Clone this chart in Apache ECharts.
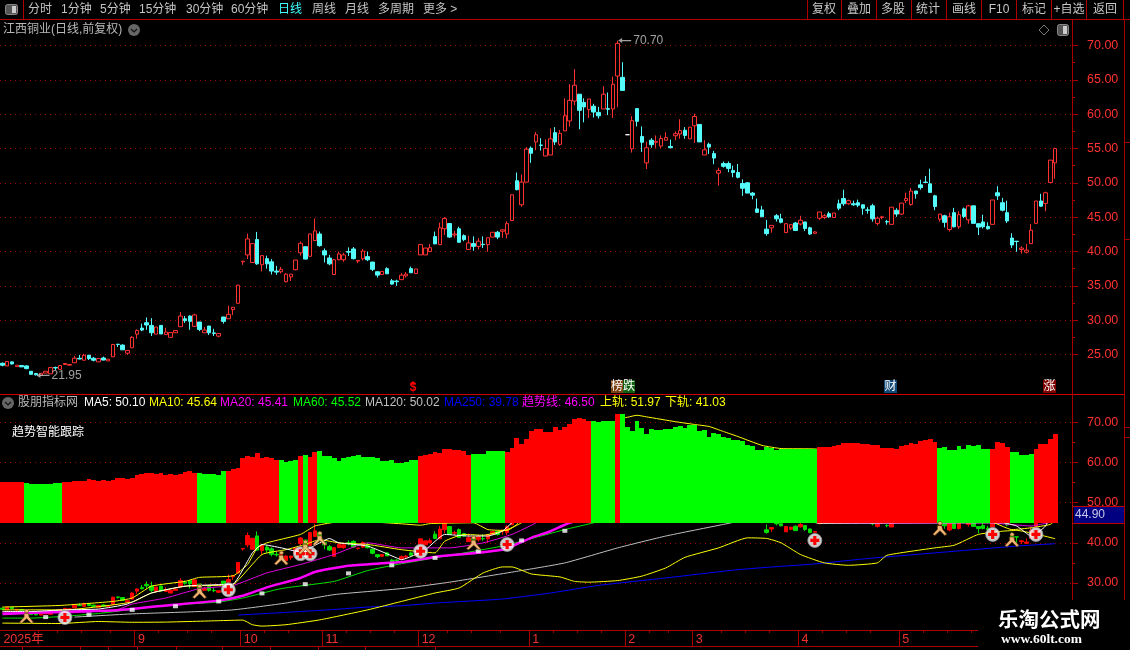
<!DOCTYPE html>
<html><head><meta charset="utf-8">
<style>html,body{margin:0;padding:0;background:#000;overflow:hidden}#c{width:1130px;height:650px}</style>
<script src="https://cdn.jsdelivr.net/npm/echarts@6/dist/echarts.min.js"></script>
</head><body><div id="c"></div>
<script>
// open, close, low, high
var candles = [
[23.73,23.44,23.29,23.83],[23.34,23.98,23.34,23.98],[23.93,23.63,23.55,24.0],[23.24,23.44,23.24,23.44],[23.4,23.2,23.2,23.4],
[23.34,22.95,22.85,23.44],[22.56,22.12,22.1,22.6],[22.25,22.05,21.95,22.3],[22.0,22.27,22.0,22.27],[22.3,22.56,22.3,22.56],
[22.2,23.1,22.2,23.1],[23.1,23.05,22.75,23.25],[22.85,23.4,22.85,23.4],[23.55,23.7,23.55,23.7],[23.45,23.55,23.45,23.55],
[23.8,24.46,23.8,24.8],[24.45,24.35,24.3,24.95],[24.17,24.9,24.17,25.1],[24.9,24.4,24.2,24.95],[24.46,24.17,24.0,24.65],
[23.93,24.41,23.93,24.41],[24.5,24.2,24.15,24.7],[24.07,24.32,24.07,24.32],[24.66,26.46,24.66,26.55],[26.5,26.45,26.1,26.55],
[26.37,25.68,25.68,26.5],[25.2,25.6,24.95,25.6],[25.98,27.5,25.98,27.7],[27.97,28.5,27.3,28.66],[28.85,28.56,28.4,29.5],
[29.63,29.3,28.6,30.4],[29.24,28.17,27.7,30.3],[27.97,29.0,27.97,29.0],[29.24,28.0,28.0,29.3],[27.9,28.27,27.9,28.9],
[27.5,28.2,27.5,28.2],[28.17,28.5,28.17,28.5],[29.05,30.6,29.05,31.2],[30.2,29.93,29.6,30.6],[30.6,29.83,28.6,30.7],
[29.1,30.76,29.0,30.95],[29.73,28.66,28.4,29.75],[28.17,28.56,28.17,29.0],[29.15,28.17,27.85,29.15],[28.15,28.07,27.7,28.75],
[27.68,28.07,27.5,28.07],[30.46,29.83,29.5,30.5],[30.2,30.85,30.2,32.1],[31.54,31.88,30.76,31.88],[32.46,35.1,32.46,35.1],
[38.5,38.6,38.07,38.6],[39.5,41.83,38.9,42.6],[38.4,41.15,38.4,41.15],[41.73,38.2,38.05,42.85],[38.07,39.4,37.1,39.4],
[38.95,38.2,37.5,39.4],[38.5,37.15,36.65,38.9],[37.15,37.0,36.6,37.9],[37.05,37.4,36.8,37.75],[35.6,36.7,35.5,36.85],
[36.3,36.7,35.7,36.7],[37.35,38.75,37.25,38.75],[39.8,41.2,39.4,41.45],[40.7,38.9,38.85,40.7],[39.3,42.55,39.3,42.55],
[41.6,43.0,41.6,44.8],[42.55,40.85,40.7,42.9],[40.1,39.5,38.4,40.45],[39.05,38.2,38.0,39.5],[36.65,38.8,36.65,38.9],
[38.8,39.65,38.7,40],[38.8,39.5,38.5,39.8],[40,39.9,39.35,40.6],[40.37,38.95,38.85,40.65],[38.6,38.7,38.3,38.7],
[38.95,40.07,38.7,40.35],[39.25,38.8,38.6,40],[38.46,37.4,37.15,38.5],[37.05,36.56,36.2,37.1],[36.65,37.1,36.65,37.1],
[37.5,36.75,36.75,37.7],[35.73,35.25,35.15,36.0],[35.7,35.6,35.0,35.9],[35.9,36.56,35.9,36.85],[36.45,36.7,36.2,37.0],
[37.5,36.9,36.9,37.8],[36.8,37.45,36.8,37.45],[39.5,41,39.5,41],[39.5,40.5,39.5,40.5],[40,40.55,39.9,41.1],
[42.17,41.1,41.1,42.9],[41,43.44,41,44.2],[43.3,44.8,42.4,45],[44.07,42.1,42.0,44.1],[42.4,42.55,42,43],
[43.3,41.34,41.3,43.6],[42.3,41.73,41.5,42.5],[40.3,41.25,40.3,42.3],[41.15,40.75,40.1,42.2],[40.75,41.5,40.3,41.95],
[41.05,41,40.5,42.2],[41,42,39.95,42],[42.1,42.8,42.1,42.8],[42.8,42.1,41.8,43],[42.95,43.15,42,43.2],
[42.55,44.05,41.9,44.4],[44.5,48.25,44.5,48.3],[50.3,49.0,48.9,51.5],[46.8,50.1,46.5,51.2],[50.1,54.9,50.1,55.2],
[55.05,54.3,52.9,55.3],[55.95,57.0,54.75,57.4],[55.5,55.45,54.7,56.5],[53.9,55,53.9,56.3],[54.05,56.4,54.05,57.9],
[57.3,55.95,55.5,58.1],[55.6,57.2,55.4,57.7],[57.55,59.75,57.55,62.3],[59,62,58.2,64.35],[61.9,64.2,61.3,66.55],
[62.9,60.55,57.8,62.9],[61.7,61.05,58.8,62.3],[60.65,62.2,59.45,62.2],[61.15,60.3,59.5,61.5],[60.25,59.75,59.35,61.05],
[60.75,62.9,60.75,64.05],[60.8,60.7,59.85,63.15],[60.75,64.35,59.45,65.45],[65.55,70.3,61,70.7],[65.35,63.45,63.45,67.55],
[57,57,57,57],[54.95,59.05,54.4,59.7],[60.8,58.95,58.2,60.8],[56.75,55.9,54.5,58.2],[52.9,55.1,52,56],
[56.2,55.55,55.1,56.5],[55.9,56,55.1,56.9],[55.35,56.45,55.05,56.9],[56.2,56.6,56.2,57.35],[55.3,55.1,55.1,56.3],
[56.85,57.15,56.2,57.5],[57.1,57.6,56.4,59.25],[57.65,56.9,56.4,58.1],[56.4,58.1,56.4,58.1],[58.3,59.65,55.8,60.05],
[58.5,55.95,55.95,58.5],[54.05,54.8,54.05,56.2],[55.6,55.2,54.2,55.85],[54.25,53.6,52.7,54.65],[51.4,51.8,49.6,52.2],
[52.8,52.4,52.2,53.1],[52.8,52.1,51.55,53.1],[51.8,51.5,50.8,52.5],[51.5,50.8,50.65,52.75],[49.9,49.2,48.1,50.5],
[50,48.5,48.5,50.1],[48.5,48.2,47.6,48.65],[46.2,45.7,45.6,47.7],[46.05,45.05,45.05,46.65],[43.25,42.6,42.3,44.6],
[43.45,43.8,42.75,43.8],[45.2,44.75,44.35,45.45],[44.75,44.25,44.1,45.5],[42.75,44.05,42.75,44.05],[43.4,43.9,43.15,44.0],
[44.15,43.05,43.05,44.3],[44,44.55,43.8,45.2],[44.3,43.35,43,44.3],[43.45,42.55,42.4,43.6],[42.65,42.85,42.65,42.95],
[44.85,45.75,44.6,45.75],[44.95,45.2,44.7,45.45],[45.5,45.05,44.9,45.8],[44.95,45.6,44.95,45.6],[46.95,46.3,46,47.55],
[47.7,46.95,46.65,49],[46.95,47.4,46.8,47.55],[46.95,46.8,46.65,47.4],[47.1,46.75,46.45,47.55],[46.8,46.3,45.35,46.8],
[46.05,46,45.5,46.45],[46.65,44.75,44.35,46.95],[44.1,44.85,43.8,45.1],[44.95,45.05,44.7,45.2],[44.35,44.3,43.9,44.6],
[43.95,46.45,43.95,46.45],[46,45.45,45.05,46.3],[45.45,47.05,45.35,47.05],[47.4,47.7,47.05,48.55],[46.85,48.8,46.65,49.25],
[48.8,48.4,47.7,48.8],[49.7,49.3,49,50.45],[50.1,50.05,50,51],[49.85,48.6,48.6,52.05],[48.1,46.55,46,48.25],
[44.7,45.45,44.35,45.45],[45.2,44.25,43.5,45.35],[43.2,45.05,42.9,45.65],[45.65,43.6,43.5,46.35],[43.6,45.35,43.3,45.85],
[46.2,45.1,44.85,46.4],[44.6,46.65,44.05,46.8],[46.65,44.1,44.1,46.65],[44.05,43.55,42.4,44.05],[44.3,43.6,43.35,45.35],
[43.65,43.3,43.2,44.25],[43.95,47.5,43.95,47.5],[48.55,48.1,47.5,49.5],[47.1,46,45.85,47.8],[45.65,44.45,44.15,47.4],
[41.95,40.95,40.5,42.65],[41.5,41.45,39.95,41.5],[40.3,40.5,39.7,40.75],[39.9,40.2,39.7,41.1],[41.15,43.1,41.15,44],
[44.1,47.35,44,47.35],[47.35,46.6,46.5,48.4],[47,48.55,45.85,48.7],[50.05,53.3,50.05,53.3],[52.9,55,50.6,55.1]
];
var whiteDojiIndex = 130;
var bandBase = 44.9;
var bandTops = [
55.23,55.14,55.23,55.06,55.06,
54.9,54.73,54.57,54.57,54.57,54.65,54.98,54.81,
55.06,55.06,55.3,55.47,55.39,55.8,55.56,55.39,55.56,55.47,55.56,56.21,56.21,55.88,56.05,56.95,57.28,57.45,57.45,57.04,57.37,56.87,57.04,56.87,57.2,57.78,58.02,57.53,
57.53,57.04,57.2,57.04,56.79,58.02,
58.02,58.44,58.77,61.15,61.65,61.4,62.47,61.15,61.48,61.23,60.74,
60.74,60.08,60.41,60.74,
61.73,
61.98,
61.48,62.55,
62.96,61.73,61.56,61.23,60.49,61.23,61.4,61.65,61.98,61.32,61.48,61.48,61.07,60.49,60.49,60.74,60,60,60.25,60.58,60.74,
61.73,61.81,62.14,62.72,62.3,63.29,63.46,63.04,63.2,62.8,61.98,
62.2,62.2,62.2,62.8,62.88,62.96,62.96,
62.72,63.7,66.09,64.69,65.93,67.9,68.4,68.3,67.57,67.74,68.97,68.15,68.8,69.7,70.86,71.1,70.8,70.3,
70.37,70.04,70.37,70.37,70.37,
72.1,
72.1,68.97,67.98,70.45,68.56,67.24,68.4,68.15,68.15,68.3,68.48,68.89,69.05,68.72,69.46,69.46,67.82,68.15,66.34,67.32,67.08,66.5,66.09,65.68,65.68,65.27,64.36,64.03,63.2,63.2,63.87,63.62,63.04,63.46,63.46,63.46,63.46,63.46,63.46,63.46,63.29,
63.95,63.95,63.95,64.03,64.44,64.86,64.86,64.77,64.77,64.69,64.6,64.36,64.44,63.62,63.7,63.62,63.46,64.2,64.28,64.86,64.69,65.27,65.68,65.84,65.19,
63.7,63.87,63.2,63.2,64.2,63.29,64.36,64.03,64.36,63.46,63.37,
63.37,65.19,64.77,63.95,
62.72,62.55,61.98,61.81,62.2,
63.37,64.69,64.69,65.93,67.16
];
// run lengths, alternating red then green
var bandRuns = [5,8,28,6,11,4,1,1,2,21,11,7,18,5,1,41,25,11,4,5,5];

var ma5 = [[0,22.9],[6,22.9],[13,23.3],[20,23.5],[26,24.75],[31,27.5],[38,29.2],[45,29.6],[48,29.75],[52,37.5],[54,39.6],[58,38.75],[62,37.75],[66,40],[68,41.1],[70,40],[76,39.2],[82,36.25],[83,35.8],[88,38.3],[92,42.1],[97,41.7],[101,41.7],[104,42.9],[106,45],[115,52],[130,62],[150,54],[170,44.9],[195,45],[208,45],[211,44.2],[214,41.7],[217,44.2],[219,50.1]];
var ma10 = [[0,23.3],[13,23.3],[27,25.25],[31,27.5],[38,29.2],[45,29.4],[48,29.6],[54,37.1],[59,38.3],[63,39.6],[66,40.8],[70,40],[76,39.6],[83,38.3],[90,37.5],[92,40.4],[96,42.1],[100,41.9],[105,43.3],[108,45],[125,58],[140,60],[155,50],[170,45],[205,45.5],[210,43.3],[214,43.75],[218,44.6],[219,45.64]];
var ma20 = [[0,22.7],[14,22.55],[24,23.4],[27,24.75],[34,26.25],[41,28.6],[48,29.4],[55,32.5],[62,34.6],[69,37.1],[76,40],[83,38.75],[93,38.75],[100,40],[106,42.1],[111,45],[130,58],[150,55],[170,45],[190,44.9],[205,45],[214,44.2],[219,45.41]];
var ma60 = [[0,21.25],[6,21.25],[13,21.7],[20,22.4],[34,24.4],[45,25.25],[50,26.25],[58,28.6],[69,30.4],[76,33.1],[83,34.8],[90,36.25],[104,39.2],[112,41.7],[117,43.3],[123,45],[140,50],[170,49],[200,46],[219,45.52]];
var ma120 = [[15,21.5],[27,22.3],[38,22.75],[48,23.3],[59,25],[69,27.1],[83,28.6],[93,30.2],[107,32.9],[117,35],[128,38.75],[138,41.7],[150,44.6],[159,46.7],[175,48],[200,49.5],[219,50.02]];
var ma250 = [[49,22],[59,22.67],[69,23.4],[76,24],[83,24.33],[90,25],[104,26],[114,27.5],[124,29.4],[138,31.25],[152,33.2],[159,33.9],[169,34.75],[180,36.1],[190,37.1],[200,38.1],[211,39.2],[219,39.78]];
var trendLine = [[0,22.25],[13,22.83],[24,23.2],[34,24.4],[45,25.6],[50,26.8],[55,28.9],[62,31.25],[65,32.75],[72,34.3],[83,35.2],[90,36.5],[104,38.3],[110,41.25],[114,42.9],[118,45],[140,52],[170,47],[200,45.5],[219,46.5]];
var upperRail = [[0,24],[12,24.4],[23,25.4],[27,26.25],[31,29.2],[38,30.4],[41,31.4],[48,31.8],[51,34.6],[53,38.75],[55,40],[62,42.1],[65,44.2],[69,45.1],[75,45.3],[83,44.75],[87,44.4],[89,44.8],[98,45],[101,43.3],[105,43.1],[107,44.6],[109,48],[114,55],[118,60],[123,66],[128,70.8],[130,71.3],[132,71.8],[134,71.4],[140,70.2],[144,69.5],[147,69],[150,67.75],[153,66.5],[158,64.3],[162,63.5],[169,63.4],[180,62],[195,55],[205,50],[212,49],[219,51.97]];
var lowerRail = [[0,20],[12,19.9],[20,20.4],[27,20.2],[34,20.25],[45,20.6],[50,20.75],[52,19.6],[54,19.25],[59,19.6],[66,20.8],[76,23.3],[83,25.4],[90,27.5],[95,28.75],[100,32.5],[104,34],[106,34],[110,32.25],[116,31.5],[119,30.4],[122,30.2],[128,30.6],[133,31.7],[138,33.75],[142,36.4],[149,38.75],[155,41.25],[159,41.1],[162,40],[166,37.1],[171,35],[176,34.4],[182,35],[184,36.9],[194,38.75],[198,39.4],[203,42.1],[208,42.9],[211,43.1],[219,41.03]];
var whiteDots = [[9,21.5],[18,22.1],[27,23.3],[36,24.2],[45,25.4],[54,27.4],[63,29.7],[72,32.4],[81,34.4],[90,36.25],[99,37.9],[108,40.6],[117,43]];
var plusSignals = [[13,21.4],[47,28.3],[62,37.3],[64,37.3],[87,37.9],[105,39.6],[169,40.6],[206,42.1],[215,42.1]];
var runnerSignals = [[5,21.7],[41,27.9],[58,36.25],[63,38.9],[66,41.1],[98,40],[195,43.6],[210,40.8]];
var highMark = [128,70.70];
var lowMark = [7,21.95];
var priceTicks = [25,30,35,40,45,50,55,60,65,70];
var priceMinor = [27.5,32.5,37.5,42.5,47.5,52.5,57.5,62.5,67.5];
var subTicks = [30,40,50,60,70];
var subMinor = [35,45,55,65];
var monthStarts = [0,28,50,67,87,110,130,144,166,187];
var monthNames = ['2025年','9','10','11','12','1','2','3','4','5'];
var weekTicks = [8,12,17,23,33,39,44,55,60,72,77,82,93,98,104,115,120,125,135,139,150,155,160,171,176,181,192,197,202];

var FONT = '"Liberation Sans","Noto Sans CJK SC",sans-serif';
var N = 223, categories = [];
for (var i = 0; i < N; i++) { var m = monthStarts.indexOf(i); categories.push(m >= 0 ? monthNames[m] : 'd' + i); }
var bandColorIdx = [];
bandRuns.forEach(function (n, k) { for (var j = 0; j < n; j++) bandColorIdx.push(k % 2); });
var bandData = bandTops.map(function (t, idx) { return [idx, t, bandBase, bandColorIdx[idx]]; });
var mainData = candles.map(function (c, idx) {
  return idx === whiteDojiIndex ? {value: c, itemStyle: {color:'#fff', color0:'#fff', borderColor:'#fff', borderColor0:'#fff', borderColorDoji:'#fff'}} : c;
});

var RED = '#ff3232', DARK = '#a80000';
var g = [];
function T(x, y, s, color, o) { o = o || {};
  g.push({type:'text', x:x, y:y, z:o.z||50, zlevel:0, silent:true, style:{text:s, fill:color, font:(o.weight||'normal')+' '+(o.size||12)+'px '+(o.family||FONT), align:o.align||'left', verticalAlign:'middle', backgroundColor:o.bg, shadowBlur:o.blur||0, shadowColor:o.shadow||'transparent'}});
}
function L(x1, y1, x2, y2, c, w) { g.push({type:'line', z:40, silent:true, shape:{x1:x1,y1:y1,x2:x2,y2:y2}, style:{stroke:c||DARK, lineWidth:w||1}}); }
function R(x, y, w, h, fill, z, stroke, r) { g.push({type:'rect', z:z||30, silent:true, shape:{x:x,y:y,width:w,height:h,r:r||0}, style:{fill:fill, stroke:stroke||null, lineWidth:1}}); }

// toolbar
R(0,0,1130,19,'#000',30);
L(0,19.5,1130,19.5,'#b00000');
L(23.5,0,23.5,19,'#b00000');
R(5.5,4.5,12,10,'#555',41,'#888',2); R(12,6,4,7,'#ccc',42);
[['分时',28],['1分钟',61],['5分钟',100],['15分钟',139],['30分钟',186],['60分钟',231],['周线',312],['月线',345],['多周期',378],['更多 >',423]].forEach(function(a){T(a[1],10,a[0],'#c4c4c4',{size:12});});
T(278,10,'日线','#40ffff',{size:12});
[807,841,876,911,946,981,1016,1051,1086,1123].forEach(function(x){L(x+.5,0,x+.5,19,'#b00000');});
[['复权',824],['叠加',859],['多股',893],['统计',928],['画线',964],['F10',999],['标记',1034],['+自选',1069],['返回',1105]].forEach(function(a){T(a[1],10,a[0],'#c8c8c8',{align:'center',size:12});});

// titles
T(3,30,'江西铜业(日线,前复权)','#b8b8b8',{size:12});
function chevron(x,y){ g.push({type:'circle',z:41,silent:true,shape:{cx:x,cy:y,r:6},style:{fill:'#666'}});
  g.push({type:'polyline',z:42,silent:true,shape:{points:[[x-3,y-1],[x,y+2],[x+3,y-1]]},style:{stroke:'#111',fill:null,lineWidth:1.2}}); }
chevron(134,30); chevron(8,403);
g.push({type:'polygon',z:41,silent:true,shape:{points:[[1044,25],[1049,30],[1044,35],[1039,30]]},style:{fill:null,stroke:'#777'}});
R(1057.5,24.5,11,11,'#555',41,'#888',2); R(1063,26,4,8,'#ccc',42);

// panel separators and axis
L(0,394.5,1124,394.5,'#d00000',1.2);
L(1072.5,20,1072.5,600,DARK,1);
L(1124.5,20,1124.5,600,DARK,1);
[142,239,427,437].forEach(function(y){L(1124,y+.5,1130,y+.5,'#a00000');});

// sub legend
[['股朋指标网',18,'#b8b8b8'],['MA5: 50.10',84,'#ffffff'],['MA10: 45.64',149,'#ffff00'],['MA20: 45.41',220,'#ff00ff'],['MA60: 45.52',293,'#00ff00'],['MA120: 50.02',365,'#c0c0c0'],['MA250: 39.78',444,'#0000ff'],['趋势线: 46.50',522,'#ff00ff'],['上轨: 51.97',600,'#ffff00'],['下轨: 41.03',665,'#ffff00']].forEach(function(a){T(a[1],403,a[0],a[2],{size:12});});
T(12,433,'趋势智能跟踪','#ffffff',{size:12});

// event flags above the separator
T(413,388,'$','#ff0000',{size:12,align:'center',weight:'bold'});
g.push({type:'polygon',z:45,silent:true,shape:{points:[[413,381],[416,384.5],[410,384.5]]},style:{fill:'#ff0000'}});
R(611,380,12,13,'#7a4010',44); R(623,380,12,13,'#106010',44);
T(617,386.5,'榜','#fff',{align:'center',z:45}); T(629,386.5,'跌','#fff',{align:'center',z:45});
R(884,380,13,13,'#104878',44); T(890.5,386.5,'财','#fff',{align:'center',z:45});
R(1043,380,13,13,'#800000',44); T(1049.5,386.5,'涨','#fff',{align:'center',z:45});

// price box
R(1074,507,50,16,'#000080',44);
L(1073,523.5,1124,523.5,'#c00000');
L(1073,506.5,1124,506.5,'#c00000');
T(1075,515,'44.90','#c8c8e8',{z:45});

// bottom axis rows
L(0,646.5,978,646.5,'#a80000');
[22,80,108,137,176,222,270,318,365,435].forEach(function(x){L(x+.5,646,x+.5,650,'#a80000');});

// watermark
R(978,630,152,20,'#000',46); R(1073,600,57,30,'#000',46);
g.push({type:'rect',z:46,silent:true,shape:{x:978,y:601,width:95,height:29},style:{fill:'#000'}});
T(998,619,'乐淘公式网','#ffffff',{size:20.5,weight:'bold',family:'"Noto Sans CJK SC",serif',z:48,blur:3,shadow:'#8090c0'});
T(1001,640,'www.60lt.com','#ffffff',{size:13.5,weight:'bold',family:'"Liberation Serif",serif',z:48,blur:2,shadow:'#8090c0'});

function lineS(name, data, color, width, z) {
  return {name:name, type:'line', xAxisIndex:1, yAxisIndex:1, data:data, showSymbol:false, smooth:0.15, z:z||3, silent:true, lineStyle:{color:color, width:width||1}};
}
var PERSON = 'path://M10 0a2.5 2.5 0 1 1 0 5a2.5 2.5 0 1 1 0-5zM7 6L12 6L13 11L18 18L15.5 19.5L10 13L4 19.5L1.5 18L7 11z';
var PLUS = 'path://M6.5 0h7v6.5h6.5v7h-6.5v6.5h-7v-6.5h-6.5v-7h6.5z';
var ARROW = 'path://M0 5L6 1L6 4L20 4L20 6L6 6L6 9z';

var yAxisBase = {type:'value', position:'right', axisLine:{show:false}, splitLine:{show:false}, axisLabel:{show:false}};
var option = {
  animation:false, backgroundColor:'#000', tooltip:{show:false}, graphic:{elements:g},
  grid:[{left:0, width:1072, top:20, height:373},{left:0, width:1072, top:395, height:235}],
  xAxis:[
    {type:'category', data:categories, gridIndex:0, boundaryGap:true, show:false},
    {type:'category', data:categories, gridIndex:1, boundaryGap:true, position:'bottom',
     axisLine:{show:true, lineStyle:{color:DARK}},
     axisTick:{show:true, length:16, customValues:monthStarts.slice(1), lineStyle:{color:DARK}},
     axisLabel:{show:true, customValues:monthStarts, color:'#f03030', fontSize:12.5, fontFamily:FONT, align:'left', margin:3, padding:[0,0,0,1],
       formatter:function(v){return v;}}, splitLine:{show:false}},
    {type:'category', data:categories, gridIndex:1, boundaryGap:true, position:'bottom',
     axisLine:{show:false}, axisTick:{show:true, length:3, customValues:weekTicks, lineStyle:{color:DARK}}, axisLabel:{show:false}, splitLine:{show:false}}
  ],
  yAxis:[
    {type:'value', gridIndex:0, position:'right', min:19.4, max:73.7, axisLine:{show:false},
     axisTick:{show:true, length:6, customValues:priceTicks, lineStyle:{color:DARK}},
     axisLabel:{show:true, customValues:priceTicks, color:RED, fontFamily:FONT, fontSize:12.5, margin:15, formatter:function(v){return v.toFixed(2);}},
     splitLine:{show:true, lineStyle:{color:'#a00000', type:[1,4], width:1}}},
    {type:'value', gridIndex:1, position:'right', min:18.28, max:76.85, axisLine:{show:false},
     axisTick:{show:true, length:6, customValues:subTicks, lineStyle:{color:DARK}},
     axisLabel:{show:true, customValues:subTicks, color:RED, fontFamily:FONT, fontSize:12.5, margin:15, formatter:function(v){return v.toFixed(2);}},
     splitLine:{show:true, lineStyle:{color:'#a00000', type:[1,4], width:1}}},
    Object.assign({}, yAxisBase, {gridIndex:0, min:19.4, max:73.7, axisTick:{show:true, length:3, customValues:priceMinor, lineStyle:{color:DARK}}}),
    Object.assign({}, yAxisBase, {gridIndex:1, min:18.28, max:76.85, axisTick:{show:true, length:3, customValues:subMinor, lineStyle:{color:DARK}}})
  ],
  series:[
    {name:'K', type:'candlestick', xAxisIndex:0, yAxisIndex:0, data:mainData, barWidth:4, silent:true, z:3,
     itemStyle:{color:'#000', color0:'#54fcfc', borderColor:'#ff3232', borderColor0:'#54fcfc', borderColorDoji:'#54fcfc', borderWidth:1}},
    {name:'highMark', type:'scatter', xAxisIndex:0, yAxisIndex:0, data:[highMark], symbol:ARROW, symbolSize:[13,5], symbolOffset:[7,0], silent:true, z:4,
     itemStyle:{color:'#c8c8c8'}, label:{show:true, position:'right', distance:2, color:'#c8c8c8', fontFamily:FONT, fontSize:12, formatter:function(p){return p.value[1].toFixed(2);}}},
    {name:'lowMark', type:'scatter', xAxisIndex:0, yAxisIndex:0, data:[lowMark], symbol:ARROW, symbolSize:[13,5], symbolOffset:[7,0], silent:true, z:4,
     itemStyle:{color:'#c8c8c8'}, label:{show:true, position:'right', distance:2, color:'#c8c8c8', fontFamily:FONT, fontSize:12, formatter:function(p){return p.value[1].toFixed(2);}}},
    {name:'subK', type:'candlestick', xAxisIndex:1, yAxisIndex:1, data:candles, barWidth:4, silent:true, z:2,
     itemStyle:{color:'#ff0000', color0:'#00e000', borderColor:'#ff0000', borderColor0:'#00e000', borderColorDoji:'#00e000', borderWidth:1}},
    lineS('MA120', ma120, '#c0c0c0', 1),
    lineS('MA250', ma250, '#0000ff', 1),
    lineS('lower', lowerRail, '#ffff00', 1),
    lineS('upper', upperRail, '#ffff00', 1),
    lineS('MA60', ma60, '#00e000', 1),
    lineS('MA20', ma20, '#e000e0', 1),
    lineS('trend', trendLine, '#ff00ff', 2.5),
    lineS('MA10', ma10, '#ffff00', 1),
    lineS('MA5', ma5, '#ffffff', 1),
    {name:'whiteDots', type:'scatter', xAxisIndex:1, yAxisIndex:1, data:whiteDots, symbol:'rect', symbolSize:[5,4], silent:true, z:3, itemStyle:{color:'#fff'}},
    {name:'band', type:'custom', xAxisIndex:1, yAxisIndex:1, data:bandData, silent:true, z:6, encode:{x:0, y:1},
     renderItem:function(params, api){
       var top = api.coord([api.value(0), api.value(1)]);
       var base = api.coord([api.value(0), api.value(2)]);
       var w = api.size([1,0])[0];
       var x0 = Math.round(top[0]-w/2), x1 = Math.round(top[0]+w/2);
       return {type:'rect', shape:{x:x0, y:Math.round(top[1]), width:x1-x0, height:Math.round(base[1])-Math.round(top[1])},
         style:{fill: api.value(3)===0 ? '#ff0000' : '#00ff00'}};
     }},
    {name:'plusBg', type:'scatter', xAxisIndex:1, yAxisIndex:1, data:plusSignals, symbol:'circle', symbolSize:14, silent:true, z:8,
     itemStyle:{color:'#ffffff', borderColor:'#999', borderWidth:1}},
    {name:'plus', type:'scatter', xAxisIndex:1, yAxisIndex:1, data:plusSignals, symbol:PLUS, symbolSize:9, silent:true, z:9, itemStyle:{color:'#ff0000', opacity:1}},
    {name:'runner', type:'scatter', xAxisIndex:1, yAxisIndex:1, data:runnerSignals, symbol:PERSON, symbolSize:14, silent:true, z:9,
     itemStyle:{color:'#f0b478', borderColor:'#6a3a00', borderWidth:0.6, opacity:1}}
  ]
};
echarts.init(document.getElementById('c'), null, {renderer:'canvas'}).setOption(option);
</script></body></html>
